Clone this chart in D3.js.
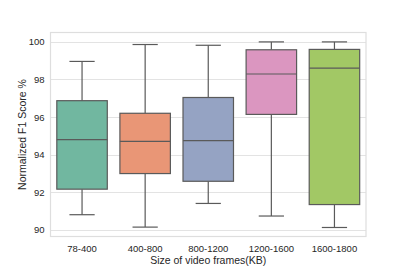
<!DOCTYPE html>
<html>
<head>
<meta charset="utf-8">
<script src="https://cdn.jsdelivr.net/npm/d3@7"></script>
<style>
  body { margin: 0; background: #fff; }
  text { font-family: "Liberation Sans", Arial, sans-serif; fill: #262626; }
</style>
</head>
<body>
<svg id="chart" width="407" height="271"></svg>
<script>
  // box stats
  let categories = ["78-400", "400-800", "800-1200", "1200-1600", "1600-1800"];
  let whiskerLow = [90.8, 90.14, 91.4, 90.73, 90.12];
  let q1 = [92.16, 92.99, 92.58, 96.14, 91.34];
  let medians = [94.8, 94.7, 94.74, 98.29, 98.6];
  let q3 = [96.87, 96.2, 97.04, 99.58, 99.6];
  let whiskerHigh = [98.96, 99.86, 99.82, 100.0, 100.0];
  let colors = ["#71b7a0", "#e99676", "#95a3c3", "#db96c0", "#a2c865"];
  let yTicks = [90, 92, 94, 96, 98, 100];

  let svg = d3.select("#chart"),
    width = +svg.attr("width"),
    height = +svg.attr("height");
  let margin = {top: 32.5, bottom: 34.5, left: 50.5, right: 41};

  let x = d3.scaleBand().domain(categories)
    .range([margin.left, width - margin.right]).paddingInner(0).paddingOuter(0);
  let y = d3.scaleLinear().domain([89.64, 100.5])
    .range([height - margin.bottom, margin.top]);

  let boxes = categories.map(function(c, i) {
    return {cat: c, lo: whiskerLow[i], q1: q1[i], med: medians[i], q3: q3[i], hi: whiskerHigh[i], color: colors[i]};
  });

  // grid
  svg.append("g").selectAll("line").data(yTicks).enter().append("line")
    .attr("x1", margin.left).attr("x2", width - margin.right)
    .attr("y1", d => Math.round(y(d)) + 0.5).attr("y2", d => Math.round(y(d)) + 0.5)
    .attr("stroke", "#e3e3e3").attr("stroke-width", 1.2);

  // frame
  svg.append("rect")
    .attr("x", margin.left).attr("y", margin.top)
    .attr("width", width - margin.left - margin.right)
    .attr("height", height - margin.top - margin.bottom)
    .attr("fill", "none").attr("stroke", "#dedede").attr("stroke-width", 1.2);

  // tick labels
  let yAxis = d3.axisLeft(y).tickValues(yTicks).tickSize(0).tickPadding(6);
  let yG = svg.append("g").attr("transform", "translate(" + margin.left + ",0)").call(yAxis);
  yG.select(".domain").remove();
  yG.selectAll("text").style("font-size", "9.5px").attr("fill", "#262626")
    .style("font-family", "'Liberation Sans', Arial, sans-serif");

  let xAxis = d3.axisBottom(x).tickSize(0).tickPadding(9);
  let xG = svg.append("g").attr("transform", "translate(0," + (height - margin.bottom) + ")").call(xAxis);
  xG.select(".domain").remove();
  xG.selectAll("text").style("font-size", "9.5px").attr("fill", "#262626")
    .style("font-family", "'Liberation Sans', Arial, sans-serif");

  let bw = x.bandwidth() * 0.8;
  let lineColor = "#5a5a5a";
  let g = svg.append("g").selectAll("g").data(boxes).enter().append("g")
    .attr("transform", d => "translate(" + (x(d.cat) + x.bandwidth() / 2) + ",0)");

  g.append("line").attr("x1", 0).attr("x2", 0)
    .attr("y1", d => y(d.hi)).attr("y2", d => y(d.q3))
    .attr("stroke", lineColor).attr("stroke-width", 1.2);
  g.append("line").attr("x1", 0).attr("x2", 0)
    .attr("y1", d => y(d.q1)).attr("y2", d => y(d.lo))
    .attr("stroke", lineColor).attr("stroke-width", 1.2);
  g.append("line").attr("x1", -bw / 4).attr("x2", bw / 4)
    .attr("y1", d => y(d.hi)).attr("y2", d => y(d.hi))
    .attr("stroke", lineColor).attr("stroke-width", 1.2);
  g.append("line").attr("x1", -bw / 4).attr("x2", bw / 4)
    .attr("y1", d => y(d.lo)).attr("y2", d => y(d.lo))
    .attr("stroke", lineColor).attr("stroke-width", 1.2);
  g.append("rect")
    .attr("x", -bw / 2).attr("width", bw)
    .attr("y", d => y(d.q3)).attr("height", d => y(d.q1) - y(d.q3))
    .attr("fill", d => d.color).attr("stroke", lineColor).attr("stroke-width", 1.2);
  g.append("line").attr("x1", -bw / 2).attr("x2", bw / 2)
    .attr("y1", d => y(d.med)).attr("y2", d => y(d.med))
    .attr("stroke", lineColor).attr("stroke-width", 1.2);

  // axis labels
  svg.append("text")
    .attr("x", (margin.left + width - margin.right) / 2).attr("y", 263.5)
    .attr("text-anchor", "middle").style("font-size", "10.5px")
    .text("Size of video frames(KB)");
  svg.append("text")
    .attr("transform", "translate(25.5," + ((margin.top + height - margin.bottom) / 2) + ") rotate(-90)")
    .attr("text-anchor", "middle").style("font-size", "10.5px")
    .text("Normalized F1 Score %");
</script>
</body>
</html>
